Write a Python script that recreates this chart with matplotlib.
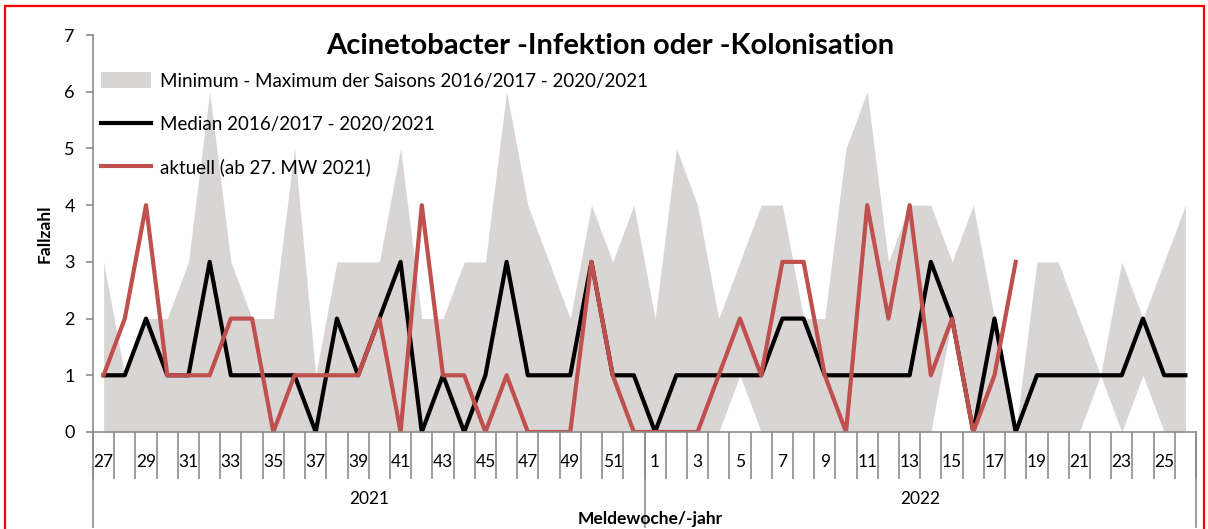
import numpy as np
import matplotlib
matplotlib.use("Agg")
import matplotlib.pyplot as plt
from matplotlib.patches import Rectangle
from matplotlib.transforms import blended_transform_factory

plt.rcParams['font.family'] = ['Lato', 'DejaVu Sans']

# Meldewochen 27/2021 .. 26/2022
weeks = list(range(27, 53)) + list(range(1, 27))
years = ["2021", "2022"]

max_vals = [3, 1, 2, 2, 3, 6, 3, 2, 2, 5, 1, 3, 3, 3, 5, 2, 2, 3, 3, 6, 4, 3, 2, 4, 3, 4,
            2, 5, 4, 2, 3, 4, 4, 2, 2, 5, 6, 3, 4, 4, 3, 4, 2, 0, 3, 3, 2, 1, 3, 2, 3, 4]
min_vals = [0, 0, 0, 0, 0, 0, 0, 0, 0, 0, 0, 0, 0, 0, 0, 0, 0, 0, 0, 0, 0, 0, 0, 0, 0, 0,
            0, 0, 0, 0, 1, 0, 0, 0, 0, 0, 0, 0, 0, 0, 2, 0, 0, 0, 0, 0, 0, 1, 0, 1, 0, 0]
median_vals = [1, 1, 2, 1, 1, 3, 1, 1, 1, 1, 0, 2, 1, 2, 3, 0, 1, 0, 1, 3, 1, 1, 1, 3, 1, 1,
               0, 1, 1, 1, 1, 1, 2, 2, 1, 1, 1, 1, 1, 3, 2, 0, 2, 0, 1, 1, 1, 1, 1, 2, 1, 1]
current_vals = [1, 2, 4, 1, 1, 1, 2, 2, 0, 1, 1, 1, 1, 2, 0, 4, 1, 1, 0, 1, 0, 0, 0, 3, 1, 0,
                0, 0, 0, 1, 2, 1, 3, 3, 1, 0, 4, 2, 4, 1, 2, 0, 1, 3]

W, H = 1208, 529
fig = plt.figure(figsize=(W / 100, H / 100), dpi=100)
ax = fig.add_axes([93 / W, 1 - 432 / H, (1196 - 93) / W, (432 - 35) / H])

x = np.arange(len(weeks))
ax.fill_between(x, min_vals, max_vals, color='#d9d5d5', lw=0,
                label='Minimum - Maximum der Saisons 2016/2017 - 2020/2021')
ax.plot(x, median_vals, color='black', lw=3, label='Median 2016/2017 - 2020/2021')
ax.plot(np.arange(len(current_vals)), current_vals, color='#c0504d', lw=3,
        label='aktuell (ab 27. MW 2021)')

ax.set_xlim(-0.5, len(weeks) - 0.5)
ax.set_ylim(0, 7)

gray = '#8c8c8c'
for s in ['top', 'right']:
    ax.spines[s].set_visible(False)
for s in ['left', 'bottom']:
    ax.spines[s].set_color(gray)
    ax.spines[s].set_linewidth(1.2)

ax.set_yticks(range(0, 8))
ax.tick_params(axis='y', colors=gray, labelcolor='black', labelsize=13, length=5, width=1.2, pad=8)

# category labels (every other week)
ax.set_xticks(x[::2])
ax.set_xticklabels([str(w) for w in weeks[::2]])
ax.tick_params(axis='x', which='major', length=0, labelsize=12.5, pad=16)
ax.set_xticks(np.arange(-0.5, len(weeks)), minor=True)
ax.tick_params(axis='x', which='minor', length=34, width=1.2, color=gray)

# group separators and year labels
tr = blended_transform_factory(ax.transData, ax.transAxes)
half = len(weeks) // 2
for xb in [-0.5, half - 0.5, len(weeks) - 0.5]:
    ax.plot([xb, xb], [0, -0.24], transform=tr, color=gray, lw=1.2, clip_on=False)
ax.text((half - 1) / 2, -0.17, years[0], transform=tr, ha='center', va='center', fontsize=12.5)
ax.text(half + (half - 1) / 2, -0.17, years[1], transform=tr, ha='center', va='center', fontsize=12.5)

fig.text(650 / W, 1 - 519 / H, 'Meldewoche/-jahr', ha='center', va='center',
         fontsize=12.5, fontweight='bold')
fig.text(45 / W, 1 - 234 / H, 'Fallzahl', ha='center', va='center', rotation=90,
         fontsize=12.5, fontweight='bold')
fig.text(610 / W, 1 - 46 / H, 'Acinetobacter -Infektion oder -Kolonisation', ha='center',
         va='center', fontsize=21, fontweight='bold')

ax.legend(loc='upper left', bbox_to_anchor=(0.0, 0.925), frameon=False, fontsize=13.5,
          handlelength=2.7, handleheight=0.9, handletextpad=0.45, labelspacing=1.38,
          borderaxespad=0.0)

# red frame around the chart
fig.patches.append(Rectangle((5 / W, -0.05), (1204 - 5) / W, 1.05 - 6 / H,
                             transform=fig.transFigure, fill=False, edgecolor='red', lw=1.6))

fig.savefig('out.png', dpi=100)
